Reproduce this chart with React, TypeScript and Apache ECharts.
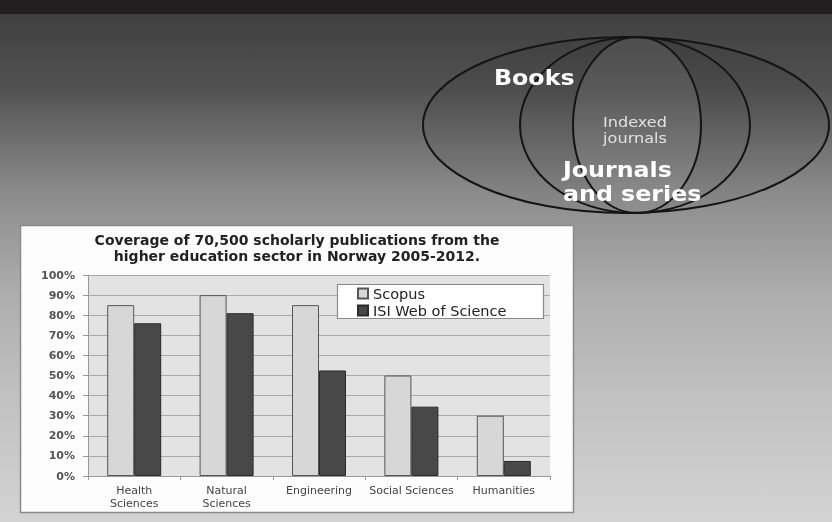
import React, { useEffect, useRef } from "react";
import * as echarts from "echarts";

const categories = ["Health\nSciences", "Natural\nSciences", "Engineering", "Social Sciences", "Humanities"];
const scopusValues = [85, 90, 85, 50, 30];
const isiValues = [76, 81, 52.5, 34.5, 7.5];
const seriesNames = ["Scopus", "ISI Web of Science"];
const chartTitle = "Coverage of 70,500 scholarly publications from the\nhigher education sector in Norway 2005-2012.";
const vennLabels = { books: "Books", indexed: "Indexed\njournals", journals: "Journals\nand series" };

const FONT = "DejaVu Sans";

export default function App() {
  const ref = useRef<HTMLDivElement>(null);
  useEffect(() => {
    if (!ref.current) return;
    const chart = echarts.init(ref.current, undefined, { renderer: "svg" });
    chart.setOption({
      animation: false,
      title: {
        text: chartTitle,
        left: 297,
        top: 232,
        padding: 0,
        textAlign: "center",
        textStyle: { fontFamily: FONT, fontWeight: "bold", fontSize: 14, lineHeight: 16, color: "#222" },
      },
      legend: {
        orient: "vertical",
        left: 357,
        top: 286,
        itemWidth: 10,
        itemHeight: 10,
        itemGap: 2,
        padding: 0,
        icon: "rect",
        data: seriesNames,
        textStyle: { fontFamily: FONT, fontSize: 14.5, lineHeight: 15, color: "#222" },
        z: 6,
      },
      grid: {
        left: 88,
        top: 275,
        width: 462,
        height: 201,
        show: true,
        backgroundColor: "#e3e3e3",
        borderWidth: 0,
      },
      xAxis: {
        type: "category",
        data: categories,
        axisLine: { lineStyle: { color: "#999" } },
        axisTick: { show: true, length: 4, lineStyle: { color: "#999" } },
        axisLabel: { fontFamily: FONT, fontSize: 11, lineHeight: 13, color: "#444", margin: 8, interval: 0 },
      },
      yAxis: {
        type: "value",
        min: 0,
        max: 100,
        interval: 10,
        axisLine: { show: true, lineStyle: { color: "#999" } },
        axisTick: { show: true, length: 5, lineStyle: { color: "#999" } },
        axisLabel: { formatter: "{value}%", fontFamily: FONT, fontWeight: "bold", fontSize: 11, color: "#555", margin: 13 },
        splitLine: { lineStyle: { color: "#a9a9a9" } },
      },
      series: [
        {
          name: seriesNames[0],
          type: "bar",
          data: scopusValues,
          barWidth: 27,
          barGap: "0%",
          itemStyle: { color: "#d7d7d7", borderColor: "#555", borderWidth: 1 },
        },
        {
          name: seriesNames[1],
          type: "bar",
          data: isiValues,
          barWidth: 27,
          barGap: "0%",
          itemStyle: { color: "#484848", borderColor: "#2a2a2a", borderWidth: 1 },
        },
      ],
      graphic: [
        {
          type: "rect",
          z: -20,
          shape: { x: 0, y: 0, width: 832, height: 522 },
          style: {
            fill: new echarts.graphic.LinearGradient(0, 0, 0, 1, [
              { offset: 0, color: "#3c3c3c" },
              { offset: 0.17, color: "#525252" },
              { offset: 0.37, color: "#8c8c8c" },
              { offset: 0.56, color: "#adadad" },
              { offset: 0.76, color: "#c1c1c1" },
              { offset: 1, color: "#d3d3d3" },
            ]),
          },
        },
        { type: "rect", z: -19, shape: { x: 0, y: 0, width: 832, height: 14 }, style: { fill: "#231f20" } },
        {
          type: "rect",
          z: -18,
          shape: { x: 20.5, y: 225.5, width: 553, height: 287 },
          style: { fill: "#fdfdfd", stroke: "#8a8a8a", lineWidth: 1.5 },
        },
        {
          type: "rect",
          z: 5,
          shape: { x: 337.5, y: 284.5, width: 206, height: 34 },
          style: { fill: "#ffffff", stroke: "#8a8a8a", lineWidth: 1.2 },
        },
        {
          type: "ellipse",
          z: -10,
          shape: { cx: 626, cy: 125, rx: 203, ry: 88 },
          style: { fill: "rgba(0,0,0,0.06)", stroke: "#141414", lineWidth: 2 },
        },
        {
          type: "ellipse",
          z: -9,
          shape: { cx: 635, cy: 125, rx: 115, ry: 88 },
          style: { fill: "rgba(0,0,0,0.02)", stroke: "#141414", lineWidth: 2 },
        },
        {
          type: "ellipse",
          z: -8,
          shape: { cx: 637, cy: 125, rx: 64, ry: 88 },
          style: { fill: "rgba(255,255,255,0.08)", stroke: "#141414", lineWidth: 2 },
        },
        {
          type: "text",
          z: -5,
          x: 494,
          y: 78,
          scaleX: 1.13,
          style: {
            text: vennLabels.books,
            fill: "#ffffff",
            font: `bold 21px "${FONT}"`,
            textAlign: "left",
            textVerticalAlign: "middle",
          },
        },
        {
          type: "text",
          z: -5,
          x: 635,
          y: 130.5,
          scaleX: 1.15,
          style: {
            text: vennLabels.indexed,
            fill: "#e2e2e2",
            font: `14px "${FONT}"`,
            lineHeight: 16.5,
            textAlign: "center",
            textVerticalAlign: "middle",
          },
        },
        {
          type: "text",
          z: -5,
          x: 563,
          y: 181.5,
          scaleX: 1.13,
          style: {
            text: vennLabels.journals,
            fill: "#ffffff",
            font: `bold 21px "${FONT}"`,
            lineHeight: 24,
            textAlign: "left",
            textVerticalAlign: "middle",
          },
        },
      ],
    });
    return () => chart.dispose();
  }, []);
  return <div ref={ref} style={{ position: "fixed", left: 0, top: 0, width: 832, height: 522 }} />;
}
